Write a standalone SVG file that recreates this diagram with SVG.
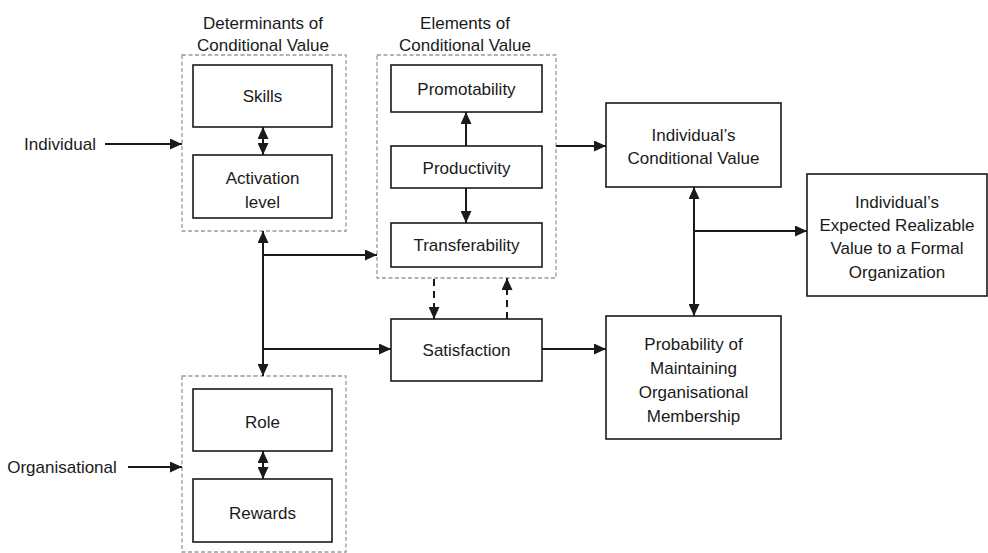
<svg xmlns="http://www.w3.org/2000/svg" width="988" height="553" viewBox="0 0 988 553">
<style>
.box{fill:#fff;stroke:#1a1a1a;stroke-width:1.6}
.grp{fill:none;stroke:#999;stroke-width:1.3;stroke-dasharray:4,2.5}
text{font-family:"Liberation Sans",Arial,sans-serif;font-size:17px;fill:#1a1a1a;text-anchor:middle}
.ln{stroke:#1a1a1a;stroke-width:2;fill:none;marker-end:url(#ah)}
.dbl{marker-start:url(#ah)}
.dash{stroke-dasharray:7,5}
</style>
<defs>
<marker id="ah" viewBox="0 0 12 11" refX="12" refY="5.5" markerWidth="12" markerHeight="11" markerUnits="userSpaceOnUse" orient="auto-start-reverse">
<path d="M0,0 L12,5.5 L0,11 z" fill="#1a1a1a"/>
</marker>
</defs>
<rect width="988" height="553" fill="#fff"/>

<g id="determinants">
<rect class="grp" x="182" y="55" width="164" height="176"/>
<text x="263" y="29">Determinants of</text>
<text x="263" y="51">Conditional Value</text>
</g>
<g id="skills"><rect class="box" x="193" y="65" width="139" height="62"/><text x="262.5" y="102">Skills</text></g>
<g id="activation"><rect class="box" x="193" y="155" width="139" height="63"/><text x="262.5" y="184">Activation</text><text x="262.5" y="208">level</text></g>

<g id="elements">
<rect class="grp" x="377" y="55" width="179" height="223"/>
<text x="465" y="29">Elements of</text>
<text x="465" y="51">Conditional Value</text>
</g>
<g id="promotability"><rect class="box" x="391" y="65" width="151" height="47"/><text x="466.5" y="95">Promotability</text></g>
<g id="productivity"><rect class="box" x="391" y="146" width="151" height="42"/><text x="466.5" y="174">Productivity</text></g>
<g id="transferability"><rect class="box" x="391" y="223" width="151" height="44"/><text x="466.5" y="251">Transferability</text></g>

<g id="satisfaction"><rect class="box" x="391" y="319" width="151" height="62"/><text x="466.5" y="356">Satisfaction</text></g>

<g id="organisational-group">
<rect class="grp" x="182" y="376" width="164" height="176"/>
</g>
<g id="role"><rect class="box" x="193" y="389" width="139" height="62"/><text x="262.5" y="428">Role</text></g>
<g id="rewards"><rect class="box" x="193" y="479" width="139" height="63"/><text x="262.5" y="519">Rewards</text></g>

<g id="icv"><rect class="box" x="606" y="103" width="175" height="84"/><text x="693.5" y="141">Individual’s</text><text x="693.5" y="164">Conditional Value</text></g>
<g id="expected"><rect class="box" x="807" y="174" width="180" height="122"/><text x="897" y="208">Individual’s</text><text x="897" y="231">Expected Realizable</text><text x="897" y="254">Value to a Formal</text><text x="897" y="278">Organization</text></g>
<g id="probability"><rect class="box" x="606" y="316" width="175" height="123"/><text x="693.5" y="350">Probability of</text><text x="693.5" y="374">Maintaining</text><text x="693.5" y="398">Organisational</text><text x="693.5" y="422">Membership</text></g>

<g id="individual-label"><text x="60" y="150">Individual</text></g>
<g id="organisational-label"><text x="62" y="473">Organisational</text></g>

<g id="connectors">
<line class="ln" x1="105" y1="144" x2="182" y2="144"/>
<line class="ln" x1="128" y1="467" x2="182" y2="467"/>
<line class="ln dbl" x1="263" y1="127" x2="263" y2="155"/>
<line class="ln dbl" x1="263" y1="451" x2="263" y2="479"/>
<line class="ln dbl" x1="263" y1="231" x2="263" y2="376"/>
<polyline class="ln" points="263,255 377,255"/>
<polyline class="ln" points="263,349 391,349"/>
<line class="ln" x1="466" y1="146" x2="466" y2="112"/>
<line class="ln" x1="466" y1="188" x2="466" y2="223"/>
<line class="ln" x1="556" y1="146" x2="606" y2="146"/>
<line class="ln dash" x1="434" y1="279" x2="434" y2="319"/>
<line class="ln dash" x1="507" y1="319" x2="507" y2="278"/>
<line class="ln" x1="542" y1="349" x2="606" y2="349"/>
<line class="ln dbl" x1="694" y1="187" x2="694" y2="316"/>
<line class="ln" x1="694" y1="231" x2="807" y2="231"/>
</g>
</svg>
